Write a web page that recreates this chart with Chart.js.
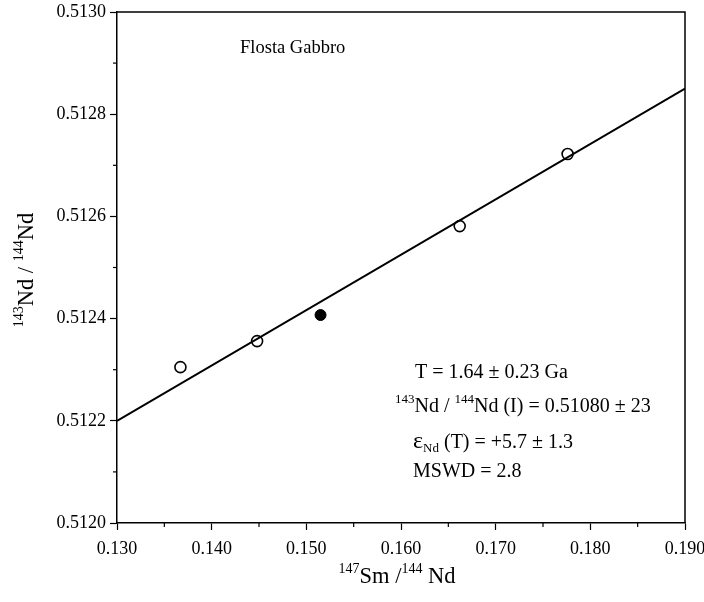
<!DOCTYPE html>
<html>
<head>
<meta charset="utf-8">
<script src="https://cdn.jsdelivr.net/npm/chart.js@4/dist/chart.umd.min.js"></script>
<style>
html,body{margin:0;padding:0;background:#fff;}
canvas{display:block;}
</style>
</head>
<body>
<canvas id="c" width="704" height="602"></canvas>
<script>
// Data
const openSm = [0.1367, 0.1448, 0.1662, 0.1776];
const openNd = [0.512305, 0.512356, 0.512581, 0.512722];
const filledSm = [0.1515];
const filledNd = [0.512407];
const isochronSm = [0.130, 0.190];
const isochronNd = [0.51220, 0.51285];
const xTickLabels = ['0.130','0.140','0.150','0.160','0.170','0.180','0.190'];
const yTickLabels = ['0.5120','0.5122','0.5124','0.5126','0.5128','0.5130'];

const SERIF = '"Liberation Serif", "Times New Roman", serif';

function isMajorX(v){ return xTickLabels.includes(v.toFixed(3)) && Math.abs(v*100 - Math.round(v*100)) < 1e-6; }
function isMajorY(v){ return yTickLabels.includes(v.toFixed(4)) && Math.abs(v*5000 - Math.round(v*5000)) < 1e-6; }

function drawRich(ctx, x, y, parts, align){
  let total = 0;
  parts.forEach(p => { ctx.font = p[1] + 'px ' + SERIF; total += ctx.measureText(p[0]).width; });
  let cx = align === 'center' ? x - total/2 : x;
  parts.forEach(p => {
    ctx.font = p[1] + 'px ' + SERIF;
    ctx.fillText(p[0], cx, y + (p[2]||0));
    cx += ctx.measureText(p[0]).width;
  });
}

const decor = {
  id: 'decor',
  afterDraw(chart){
    const ctx = chart.ctx;
    const a = chart.chartArea;
    ctx.save();
    ctx.strokeStyle = '#000';
    ctx.lineWidth = 1.5;
    ctx.beginPath();
    ctx.moveTo(a.left, a.top); ctx.lineTo(a.right, a.top); ctx.lineTo(a.right, a.bottom);
    ctx.stroke();
    ctx.lineWidth = 1.2;
    const xs = chart.scales.x, ys = chart.scales.y;
    xs.ticks.forEach(t => {
      if (!isMajorX(t.value)) {
        const px = xs.getPixelForValue(t.value);
        ctx.beginPath(); ctx.moveTo(px, a.bottom); ctx.lineTo(px, a.bottom + 4); ctx.stroke();
      }
    });
    ys.ticks.forEach(t => {
      if (!isMajorY(t.value)) {
        const py = ys.getPixelForValue(t.value);
        ctx.beginPath(); ctx.moveTo(a.left, py); ctx.lineTo(a.left - 4, py); ctx.stroke();
      }
    });
    ctx.fillStyle = '#000';
    ctx.textBaseline = 'alphabetic';
    ctx.textAlign = 'left';
    drawRich(ctx, 240, 53, [['Flosta Gabbro', 18.5]]);
    drawRich(ctx, 415, 378, [['T = 1.64 \u00b1 0.23 Ga', 20]]);
    drawRich(ctx, 395, 412, [['143', 13, -9], ['Nd / ', 20], ['144', 13, -9], ['Nd (I) = 0.51080 \u00b1 23', 20]]);
    drawRich(ctx, 413, 448, [['\u03b5', 24], ['Nd', 13, 4], [' (T) = +5.7 \u00b1 1.3', 20]]);
    drawRich(ctx, 413, 477, [['MSWD = 2.8', 20]]);
    drawRich(ctx, 397, 583, [['147', 14, -10], ['Sm /', 22.5], ['144', 14, -10], [' Nd', 22.5]], 'center');
    ctx.translate(33, 270);
    ctx.rotate(-Math.PI/2);
    drawRich(ctx, 0, 0, [['143', 14, -10], ['Nd / ', 22.5], ['144', 14, -10], ['Nd', 22.5]], 'center');
    ctx.restore();
  }
};

new Chart(document.getElementById('c'), {
  type: 'scatter',
  data: {
    datasets: [
      {
        type: 'line',
        data: isochronSm.map((v,i) => ({x: v, y: isochronNd[i]})),
        borderColor: '#000', borderWidth: 2, pointRadius: 0, fill: false, tension: 0
      },
      {
        data: openSm.map((v,i) => ({x: v, y: openNd[i]})),
        pointRadius: 5.5, pointBorderWidth: 1.6, pointBorderColor: '#000', pointBackgroundColor: '#fff'
      },
      {
        data: filledSm.map((v,i) => ({x: v, y: filledNd[i]})),
        pointRadius: 5.5, pointBorderWidth: 1, pointBorderColor: '#000', pointBackgroundColor: '#000'
      }
    ]
  },
  options: {
    responsive: false,
    devicePixelRatio: 1,
    animation: false,
    layout: { padding: { left: 0, right: 19, top: 12, bottom: 0 } },
    plugins: { legend: { display: false }, tooltip: { enabled: false } },
    scales: {
      x: {
        type: 'linear', min: 0.130, max: 0.190,
        afterFit(s){ s.height = 79; s.paddingLeft = 0; s.paddingRight = 0; },
        border: { display: true, color: '#000', width: 1.5 },
        grid: { drawOnChartArea: false, drawTicks: true, tickLength: 7, tickWidth: 1.2,
          tickColor: c => (c.tick && isMajorX(c.tick.value)) ? '#000' : 'rgba(0,0,0,0)' },
        ticks: {
          stepSize: 0.005, autoSkip: false, maxRotation: 0, padding: 8, color: '#000',
          font: { family: SERIF, size: 18 },
          callback: v => isMajorX(v) ? v.toFixed(3) : ''
        }
      },
      y: {
        type: 'linear', min: 0.5120, max: 0.5130,
        afterFit(s){ s.width = 117; s.paddingTop = 0; s.paddingBottom = 0; },
        border: { display: true, color: '#000', width: 1.5 },
        grid: { drawOnChartArea: false, drawTicks: true, tickLength: 7, tickWidth: 1.2,
          tickColor: c => (c.tick && isMajorY(c.tick.value)) ? '#000' : 'rgba(0,0,0,0)' },
        ticks: {
          stepSize: 0.0001, autoSkip: false, padding: 4, color: '#000',
          font: { family: SERIF, size: 18 },
          callback: v => isMajorY(v) ? v.toFixed(4) : ''
        }
      }
    }
  },
  plugins: [decor]
});
</script>
</body>
</html>
